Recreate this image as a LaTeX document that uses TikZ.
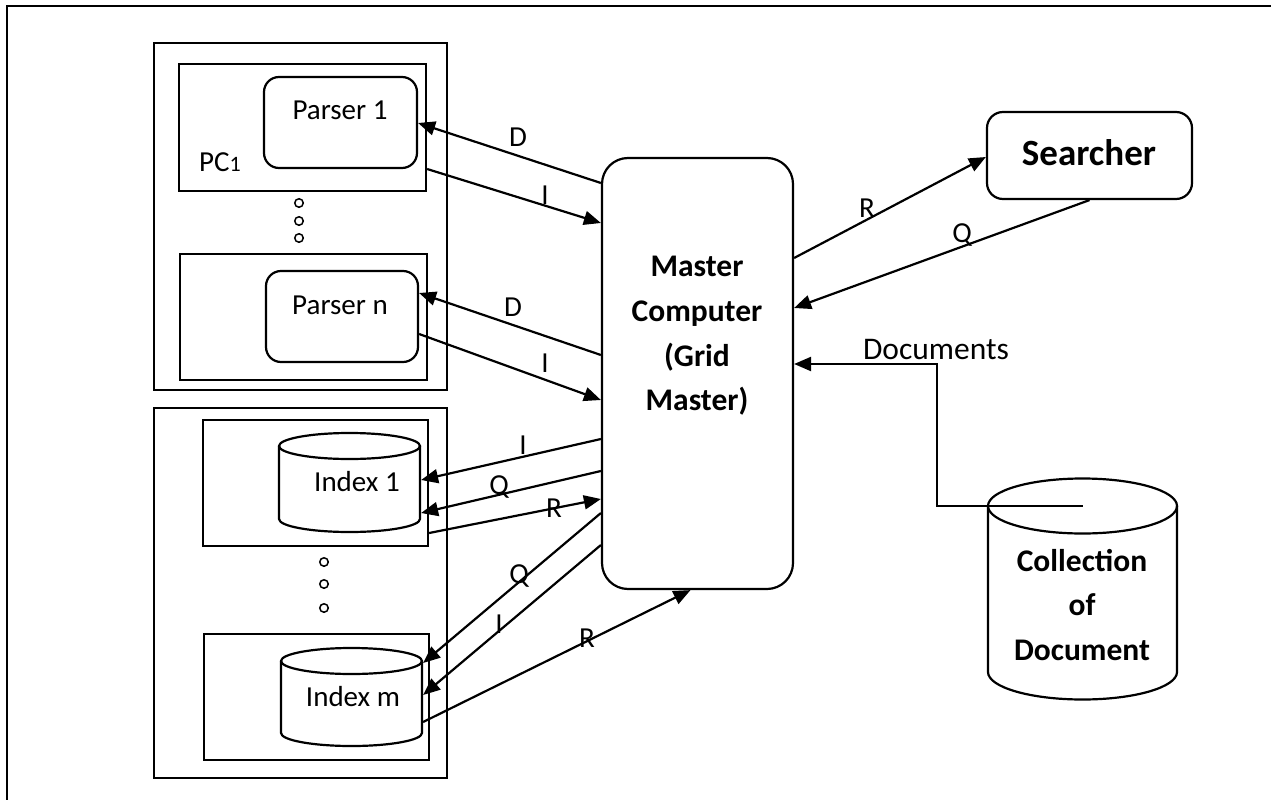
\documentclass[tikz,border=0pt]{standalone}
\usepackage{fontspec}
\setmainfont{Carlito}
\usetikzlibrary{arrows.meta}

% database cylinder: centre x, x radius, top-ellipse y, bottom-ellipse y, y radius
\newcommand\dbcyl[5]{%
  \draw ({#1-#2},#3) -- ({#1-#2},#4)
    .. controls ({#1-#2},{#4+0.5523*#5}) and ({#1-0.5523*#2},{#4+#5}) .. (#1,{#4+#5})
    .. controls ({#1+0.5523*#2},{#4+#5}) and ({#1+#2},{#4+0.5523*#5}) .. ({#1+#2},#4)
    -- ({#1+#2},#3);
  \draw (#1,#3) ellipse [x radius=#2, y radius=#5];
}

\begin{document}
\begin{tikzpicture}[x=1pt,y=-1pt,line width=2.2pt,
  txt/.style={font=\fontsize{29}{35}\selectfont, inner sep=0pt},
  bigtxt/.style={font=\fontsize{31.5}{38}\selectfont, inner sep=0pt},
  boldtxt/.style={font=\bfseries\fontsize{31.5}{44.7}\selectfont, align=center, inner sep=0pt},
  frame/.style={draw, rectangle, inner sep=0pt},
  rbox/.style={draw, rectangle, rounded corners=#1, inner sep=0pt},
  rbox/.default=15pt,
  hole/.style={draw, circle, minimum size=8.5pt, inner sep=0pt, line width=1.5pt},
  flow/.style={-{Triangle[length=17pt,width=14pt]}},
  area/.style={rectangle, inner sep=0pt}]

\useasboundingbox (0,0) rectangle (1271,800);

% page frame
\draw[line width=2.6pt] (1271,6) -- (7,6) -- (7,800);

% ---- parser machines ----
\node[frame, minimum width=293pt, minimum height=347pt] (pgroup) at (300.5,216.5) {};
\node[frame, minimum width=247pt, minimum height=127pt] (pc1) at (302.5,127.5) {};
\node[rbox, minimum width=153pt, minimum height=91pt] (p1) at (340.5,122.5) {};
\node[txt] (p1t) at (340,110) {Parser 1};
\node[txt] (pc1t) at (220,162) {PC{\fontsize{22}{22}\selectfont 1}};
\node[hole] (pdot1) at (299,203) {};
\node[hole] (pdot2) at (299,221) {};
\node[hole] (pdot3) at (299,238) {};
\node[frame, minimum width=247pt, minimum height=126pt] (pcn) at (303.5,317) {};
\node[rbox, minimum width=152pt, minimum height=91pt] (pn) at (342,316.5) {};
\node[txt] (pnt) at (340,305) {Parser n};

% ---- index machines ----
\node[frame, minimum width=293pt, minimum height=370pt] (igroup) at (300.5,593) {};
\node[frame, minimum width=225pt, minimum height=126pt] (ic1) at (315.5,483) {};
\dbcyl{349.5}{70.5}{446}{519}{13}
\node[area, minimum width=141pt, minimum height=99pt] (ix1) at (349.5,482.5) {};
\node[txt] (ix1t) at (357,482) {Index 1};
\node[hole] (idot1) at (324,562) {};
\node[hole] (idot2) at (324,584) {};
\node[hole] (idot3) at (324,608) {};
\node[frame, minimum width=225pt, minimum height=126pt] (icm) at (316.5,697) {};
\dbcyl{351.5}{70.5}{661}{733}{13}
\node[area, minimum width=141pt, minimum height=98pt] (ixm) at (351.5,697) {};
\node[txt] (ixmt) at (353,697) {Index m};

% ---- master ----
\node[rbox=26pt, minimum width=191pt, minimum height=431pt] (master) at (697.5,373.5) {};
\node[boldtxt] (mastert) at (697,336) {Master\\Computer\\(Grid\\Master)};

% ---- searcher ----
\node[rbox=16pt, minimum width=205pt, minimum height=87pt] (search) at (1089.5,155.5) {};
\node[font=\bfseries\fontsize{37}{44}\selectfont, inner sep=0pt] (searcht) at (1089,153) {Searcher};

% ---- document collection ----
\dbcyl{1082.5}{94.5}{506}{672}{27.5}
\node[area, minimum width=189pt, minimum height=221pt] (coll) at (1082.5,589) {};
\node[boldtxt] (collt) at (1082,605) {Collection\\of\\Document};

% ---- connectors: parsers ----
\draw[flow] (master.west |- 0,183) -- (p1.east |- 0,123);
\draw[flow] (pc1.east |- 0,169) -- (master.west |- 0,223);
\draw[flow] (master.west |- 0,355) -- (pn.east |- 0,293);
\draw[flow] (pn.east |- 0,334) -- (master.west |- 0,400);

% ---- connectors: indexes ----
\draw[flow] (master.west |- 0,439) -- (ix1.east |- 0,480);
\draw[flow] (master.west |- 0,471) -- (ix1.east |- 0,513);
\draw[flow] (ic1.east |- 0,533) -- (master.west |- 0,499);
\draw[flow] (master.west |- 0,513) -- (ixm.east |- 0,663);
\draw[flow] (master.west |- 0,545) -- (ixm.east |- 0,695);
\draw[flow] (ixm.east |- 0,722) -- ([xshift=-7pt]master.south);

% ---- connectors: searcher ----
\draw[flow] (master.east |- 0,258) -- (search.west |- 0,157);
\draw[flow] (search.south) -- (master.east |- 0,308);

% ---- connector: documents ----
\coordinate (collc) at (1082.5,506);
\coordinate (bend) at (937,364);
\draw[flow] (collc) -| (bend) -- (master.east |- bend);

% ---- labels ----
\node[txt] (lD1) at (518,137) {D};
\node[txt] (lI1) at (545,195) {I};
\node[txt] (lD2) at (513,307) {D};
\node[txt] (lI2) at (545,363) {I};
\node[txt] (lI3) at (523,445) {I};
\node[txt] (lQ3) at (499,487) {Q};
\node[txt] (lR3) at (554,508) {R};
\node[txt] (lQ4) at (519,576) {Q};
\node[txt] (lI4) at (499,624) {I};
\node[txt] (lR4) at (587,638) {R};
\node[txt] (lR5) at (867,208) {R};
\node[txt] (lQ5) at (962,235) {Q};
\node[bigtxt] (ldoc) at (936,350) {Documents};
\end{tikzpicture}
\end{document}
